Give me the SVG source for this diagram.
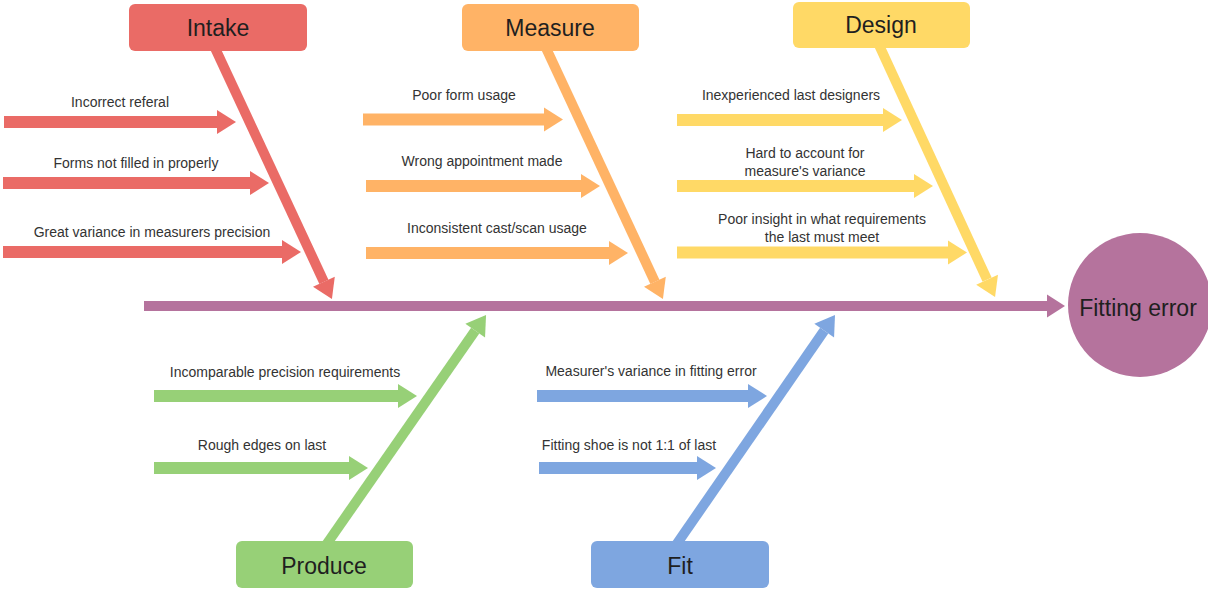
<svg xmlns="http://www.w3.org/2000/svg" width="1208" height="589" viewBox="0 0 1208 589">
  <style>
    .lbl { font-family: "Liberation Sans", Arial, sans-serif; font-size: 14px; fill: #333333; text-anchor: middle; }
    .head { font-family: "Liberation Sans", Arial, sans-serif; font-size: 23px; fill: #1f1f1f; text-anchor: middle; }
    .side { stroke-width: 12; fill: none; }
    .bone { stroke-width: 10; fill: none; }
    .red { stroke: #EA6B66; }
    .orange { stroke: #FFB366; }
    .yellow { stroke: #FFD966; }
    .green { stroke: #97D077; }
    .blue { stroke: #7EA6E0; }
    .purple { stroke: #B5739D; }
  </style>
  <defs>
    <marker id="ah-red" markerUnits="userSpaceOnUse" markerWidth="20" markerHeight="24" refX="0" refY="12" orient="auto" overflow="visible">
      <path d="M0,0 L19,12 L0,24 Z" fill="#EA6B66"/>
    </marker>
    <marker id="ah-orange" markerUnits="userSpaceOnUse" markerWidth="20" markerHeight="24" refX="0" refY="12" orient="auto" overflow="visible">
      <path d="M0,0 L19,12 L0,24 Z" fill="#FFB366"/>
    </marker>
    <marker id="ah-yellow" markerUnits="userSpaceOnUse" markerWidth="20" markerHeight="24" refX="0" refY="12" orient="auto" overflow="visible">
      <path d="M0,0 L19,12 L0,24 Z" fill="#FFD966"/>
    </marker>
    <marker id="ah-green" markerUnits="userSpaceOnUse" markerWidth="20" markerHeight="24" refX="0" refY="12" orient="auto" overflow="visible">
      <path d="M0,0 L19,12 L0,24 Z" fill="#97D077"/>
    </marker>
    <marker id="ah-blue" markerUnits="userSpaceOnUse" markerWidth="20" markerHeight="24" refX="0" refY="12" orient="auto" overflow="visible">
      <path d="M0,0 L19,12 L0,24 Z" fill="#7EA6E0"/>
    </marker>
    <marker id="ah-purple" markerUnits="userSpaceOnUse" markerWidth="18" markerHeight="24" refX="0" refY="12" orient="auto" overflow="visible">
      <path d="M0,0.5 L18,12 L0,23.5 Z" fill="#B5739D"/>
    </marker>
  </defs>

  <rect width="1208" height="589" fill="#ffffff"/>

  <!-- connectors: spine, category bones and cause arrows -->
  <g id="connectors">
    <line class="bone purple" x1="144" y1="306" x2="1047" y2="306" marker-end="url(#ah-purple)"/>

    <line class="bone red" x1="215" y1="48" x2="323.9" y2="281.8" marker-end="url(#ah-red)"/>
    <line class="bone orange" x1="546" y1="48" x2="654.9" y2="281.8" marker-end="url(#ah-orange)"/>
    <line class="bone yellow" x1="879" y1="45" x2="987.1" y2="279.7" marker-end="url(#ah-yellow)"/>
    <line class="bone green" x1="326" y1="545" x2="475.2" y2="330.6" marker-end="url(#ah-green)"/>
    <line class="bone blue" x1="676" y1="545" x2="824.2" y2="330.6" marker-end="url(#ah-blue)"/>

    <line class="side red" x1="4" y1="122" x2="217" y2="122" marker-end="url(#ah-red)"/>
    <line class="side red" x1="3" y1="183" x2="250" y2="183" marker-end="url(#ah-red)"/>
    <line class="side red" x1="3" y1="252" x2="282" y2="252" marker-end="url(#ah-red)"/>

    <line class="side orange" x1="363" y1="119.5" x2="544" y2="119.5" marker-end="url(#ah-orange)"/>
    <line class="side orange" x1="366" y1="186" x2="581" y2="186" marker-end="url(#ah-orange)"/>
    <line class="side orange" x1="366" y1="253" x2="609" y2="253" marker-end="url(#ah-orange)"/>

    <line class="side yellow" x1="677" y1="120" x2="883" y2="120" marker-end="url(#ah-yellow)"/>
    <line class="side yellow" x1="677" y1="186" x2="914" y2="186" marker-end="url(#ah-yellow)"/>
    <line class="side yellow" x1="677" y1="252.5" x2="948" y2="252.5" marker-end="url(#ah-yellow)"/>

    <line class="side green" x1="154" y1="396" x2="398" y2="396" marker-end="url(#ah-green)"/>
    <line class="side green" x1="154" y1="468" x2="349" y2="468" marker-end="url(#ah-green)"/>

    <line class="side blue" x1="537" y1="396" x2="748" y2="396" marker-end="url(#ah-blue)"/>
    <line class="side blue" x1="539" y1="468" x2="697" y2="468" marker-end="url(#ah-blue)"/>
  </g>

  <!-- cause labels -->
  <g id="labels">
    <text class="lbl" x="120" y="107">Incorrect referal</text>
    <text class="lbl" x="136" y="168">Forms not filled in properly</text>
    <text class="lbl" x="152" y="237">Great variance in measurers precision</text>

    <text class="lbl" x="464" y="100">Poor form usage</text>
    <text class="lbl" x="482" y="166">Wrong appointment made</text>
    <text class="lbl" x="497" y="233">Inconsistent cast/scan usage</text>

    <text class="lbl" x="791" y="100">Inexperienced last designers</text>
    <text class="lbl" x="805" y="158">Hard to account for</text>
    <text class="lbl" x="805" y="176">measure's variance</text>
    <text class="lbl" x="822" y="224">Poor insight in what requirements</text>
    <text class="lbl" x="822" y="242">the last must meet</text>

    <text class="lbl" x="285" y="377">Incomparable precision requirements</text>
    <text class="lbl" x="262" y="450">Rough edges on last</text>

    <text class="lbl" x="651" y="376">Measurer's variance in fitting error</text>
    <text class="lbl" x="629" y="450">Fitting shoe is not 1:1 of last</text>
  </g>

  <!-- category nodes -->
  <g id="intake">
    <rect x="129" y="4" width="178" height="47" rx="6" fill="#EA6B66"/>
    <text class="head" x="218" y="36">Intake</text>
  </g>
  <g id="measure">
    <rect x="462" y="4" width="177" height="47" rx="6" fill="#FFB366"/>
    <text class="head" x="550" y="36">Measure</text>
  </g>
  <g id="design">
    <rect x="793" y="2" width="177" height="46" rx="6" fill="#FFD966"/>
    <text class="head" x="881" y="33">Design</text>
  </g>
  <g id="produce">
    <rect x="236" y="541" width="177" height="47" rx="6" fill="#97D077"/>
    <text class="head" x="324" y="574">Produce</text>
  </g>
  <g id="fit">
    <rect x="591" y="541" width="178" height="47" rx="6" fill="#7EA6E0"/>
    <text class="head" x="680" y="574">Fit</text>
  </g>

  <!-- effect node -->
  <g id="fitting-error">
    <circle cx="1140" cy="305" r="72" fill="#B5739D"/>
    <text class="head" x="1138" y="316">Fitting error</text>
  </g>
</svg>
